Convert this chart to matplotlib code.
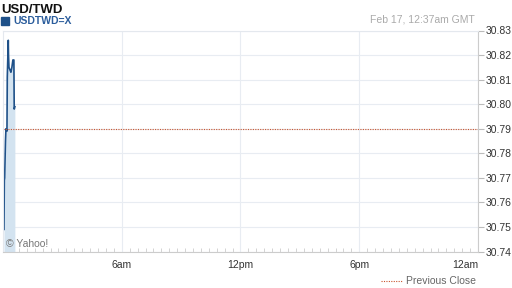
import numpy as np
import matplotlib.pyplot as plt
from matplotlib.patches import Rectangle
from matplotlib.lines import Line2D

plt.rcParams['font.family'] = ['Liberation Sans', 'DejaVu Sans']

# minutes after midnight, rate
t = [3, 4, 5, 7.5, 9, 12, 13, 16, 16.7, 18, 21, 24, 27, 30, 33, 34, 36]
rate = [30.749, 30.769, 30.770, 30.785, 30.790, 30.789, 30.811, 30.826, 30.820,
        30.815, 30.814, 30.813, 30.815, 30.818, 30.818, 30.798, 30.799]
prev_close = 30.79
y_ticks = [30.74, 30.75, 30.76, 30.77, 30.78, 30.79, 30.80, 30.81, 30.82, 30.83]
x_ticks = [6, 12, 18, 24]
x_labels = ["6am", "12pm", "6pm", "12am"]

hours = np.array(t) / 60.0

fig = plt.figure(figsize=(5.12, 2.88), dpi=100)
ax = fig.add_axes([3 / 512, 1 - 251.5 / 288, 475 / 512, 221 / 288])

ax.fill_between(hours, rate, 30.74, color="#d3e3f0", lw=0)
ax.plot(hours, rate, color="#1f5189", lw=1.2)
ax.axhline(prev_close, color="#c9542c", lw=0.8, ls=(0, (1, 1.2)))

ax.set_xlim(0, 24)
ax.set_ylim(30.74, 30.83)
ax.set_yticks(y_ticks)
ax.set_yticklabels(["%.2f" % v for v in y_ticks])
ax.yaxis.tick_right()
ax.set_xticks(x_ticks)
ax.set_xticklabels(x_labels)
ax.get_xticklabels()[-1].set_ha("right")
ax.set_xticks(np.arange(0, 24, 0.4), minor=True)

ax.grid(True, which="major", color="#e8ecf2", lw=0.8)
ax.set_axisbelow(True)
ax.tick_params(axis="y", which="major", direction="out", length=4, pad=1.5,
               labelsize=7.5, color="#bbbbbb", labelcolor="#333333")
ax.tick_params(axis="x", which="major", direction="in", length=0, pad=6,
               labelsize=7.5, labelcolor="#333333")
ax.tick_params(axis="x", which="minor", direction="in", length=3, color="#cccccc")

for s in ["left", "top"]:
    ax.spines[s].set_color("#e4e8ee")
    ax.spines[s].set_linewidth(0.8)
ax.spines["right"].set_color("#cccccc")
ax.spines["bottom"].set_color("#cccccc")

# header
fig.text(1 / 512, 1 - 4 / 288, "USD/TWD", fontsize=9.5, fontweight="bold",
         color="#111111", va="top", ha="left")
fig.patches.append(Rectangle((1 / 512, 1 - 25 / 288), 8 / 512, 8 / 288,
                             transform=fig.transFigure, color="#1f5189"))
fig.text(13 / 512, 1 - 21 / 288, "USDTWD=X", fontsize=7.5, fontweight="bold",
         color="#2b5d9c", va="center", ha="left")
fig.text(475 / 512, 1 - 20 / 288, "Feb 17, 12:37am GMT", fontsize=7.5,
         color="#aaaaaa", va="center", ha="right")
ax.text(0.006, 0.035, "\u00a9 Yahoo!", transform=ax.transAxes, fontsize=7.5,
        color="#777777", va="center", ha="left")

# legend
fig.lines.append(Line2D([381 / 512, 403 / 512], [1 - 281 / 288, 1 - 281 / 288],
                        transform=fig.transFigure, color="#c9542c", lw=0.8,
                        ls=(0, (1, 1.2))))
fig.text(406 / 512, 1 - 281 / 288, "Previous Close", fontsize=7.5,
         color="#666666", va="center", ha="left")

fig.savefig("out.png", dpi=100)
